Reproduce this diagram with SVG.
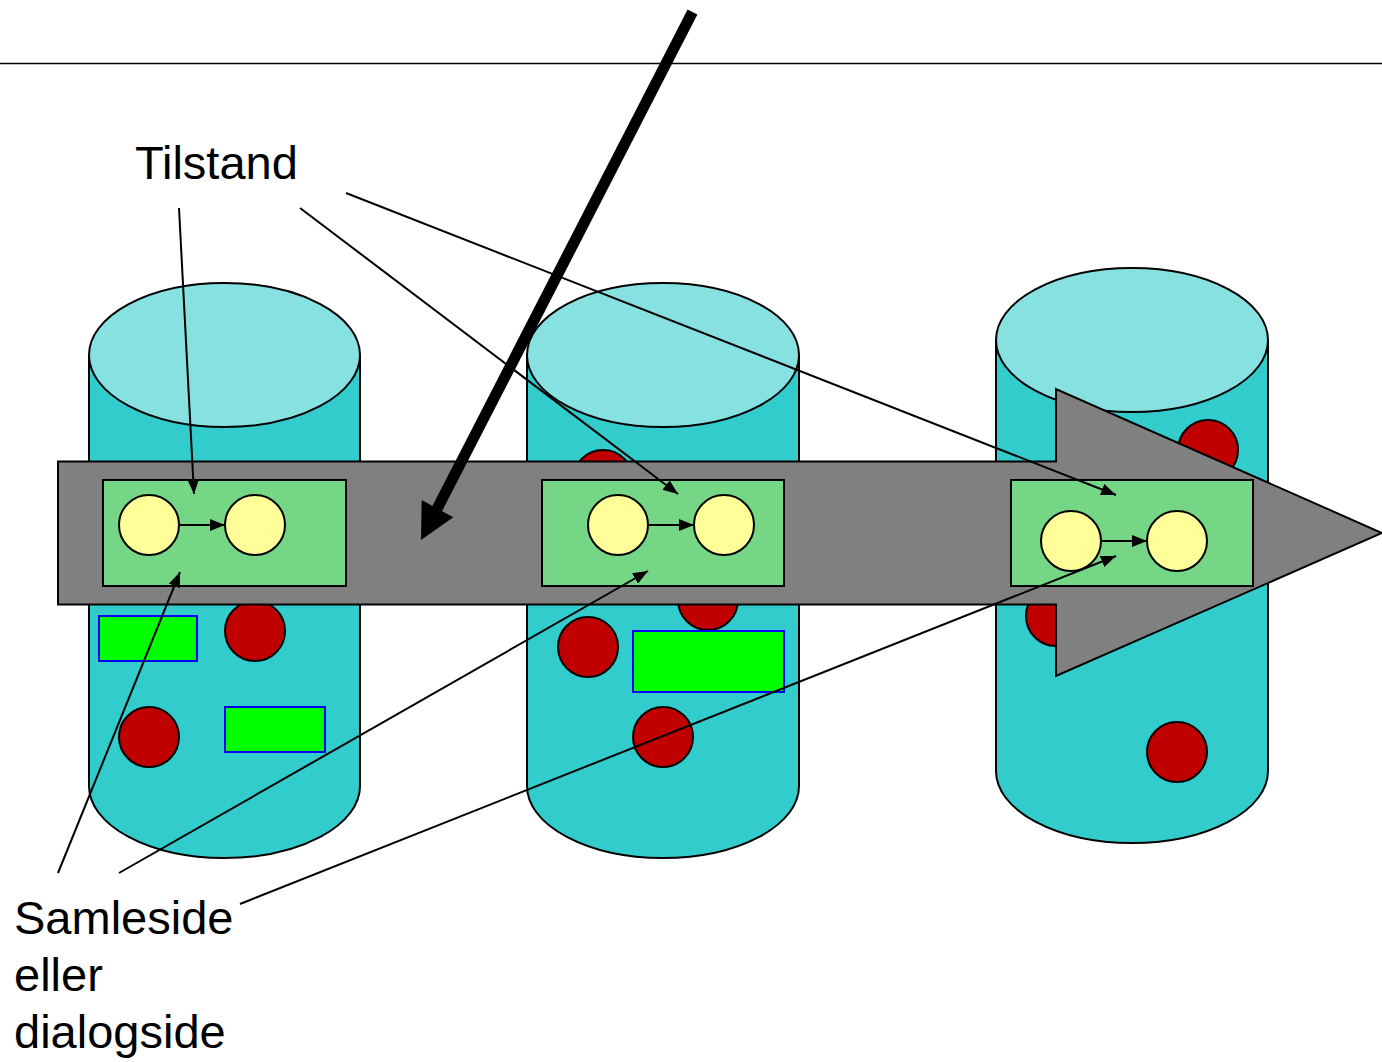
<svg xmlns="http://www.w3.org/2000/svg" width="1382" height="1062" viewBox="0 0 1382 1062">
<defs>
<style>
.body{fill:#33CCCC;stroke:#000;stroke-width:2}
.top{fill:#87E1E1;stroke:#000;stroke-width:2}
.red{fill:#C00000;stroke:#000;stroke-width:2}
.gr{fill:#00FF00;stroke:#0000FF;stroke-width:2}
.box{fill:#75D786;stroke:#000;stroke-width:2}
.st{fill:#FFFF99;stroke:#000;stroke-width:2}
.ptr{stroke:#000;stroke-width:2;fill:none;marker-end:url(#ah)}
.lbl{font-family:"Liberation Sans",Arial,sans-serif;font-size:47px;fill:#000}
</style>
<marker id="ah" viewBox="0 0 15 12" markerWidth="15" markerHeight="12" refX="15" refY="6" orient="auto" markerUnits="userSpaceOnUse">
<path d="M0,0 L15,6 L0,12 Z" fill="#000"/>
</marker>
</defs>
<rect width="1382" height="1062" fill="#fff"/>
<line x1="0" y1="63.5" x2="1382" y2="63.5" stroke="#000" stroke-width="1.3"/>

<g id="cyl1">
<path class="body" d="M89,355 V786 A135.5,72 0 0 0 360,786 V355 Z"/>
<ellipse class="top" cx="224.5" cy="355" rx="135.5" ry="72"/>
<circle class="red" cx="255" cy="631" r="30"/>
<circle class="red" cx="149" cy="737" r="30"/>
<rect class="gr" x="99" y="616" width="98" height="45"/>
<rect class="gr" x="225" y="707" width="100" height="45"/>
</g>
<g id="cyl2">
<path class="body" d="M527,355 V786 A136,72 0 0 0 799,786 V355 Z"/>
<ellipse class="top" cx="663" cy="355" rx="136" ry="72"/>
<circle class="red" cx="603" cy="480" r="30"/>
<circle class="red" cx="708" cy="600" r="30"/>
<circle class="red" cx="588" cy="647" r="30"/>
<circle class="red" cx="663" cy="737" r="30"/>
<rect class="gr" x="633" y="631" width="151" height="61"/>
</g>
<g id="cyl3">
<path class="body" d="M996,340 V771 A136,72 0 0 0 1268,771 V340 Z"/>
<ellipse class="top" cx="1132" cy="340" rx="136" ry="72"/>
<circle class="red" cx="1208" cy="450" r="30"/>
<circle class="red" cx="1056" cy="616" r="30"/>
<circle class="red" cx="1177" cy="752" r="30"/>
</g>

<g id="flow">
<path d="M58,461.5 H1056 V389 L1382,533 L1056,676 V604.5 H58 Z" fill="#808080" stroke="#000" stroke-width="2"/>
</g>

<g id="page1">
<rect class="box" x="103" y="480" width="243" height="106"/>
<circle class="st" cx="149" cy="525" r="30"/>
<circle class="st" cx="255" cy="525" r="30"/>
<line class="ptr" x1="179" y1="525" x2="225" y2="525"/>
</g>
<g id="page2">
<rect class="box" x="542" y="480" width="242" height="106"/>
<circle class="st" cx="618" cy="525" r="30"/>
<circle class="st" cx="724" cy="525" r="30"/>
<line class="ptr" x1="648" y1="525" x2="694" y2="525"/>
</g>
<g id="page3">
<rect class="box" x="1011" y="480" width="242" height="106"/>
<circle class="st" cx="1071" cy="541" r="30"/>
<circle class="st" cx="1177" cy="541" r="30"/>
<line class="ptr" x1="1101" y1="541" x2="1147" y2="541"/>
</g>

<g id="labels">
<text class="lbl" x="135" y="179">Tilstand</text>
<text class="lbl" x="14" y="934">Samleside</text>
<text class="lbl" x="14" y="991">eller</text>
<text class="lbl" x="14" y="1048">dialogside</text>
</g>

<g id="connectors">
<line class="ptr" x1="179" y1="208" x2="194" y2="494"/>
<line class="ptr" x1="300" y1="208" x2="678" y2="494"/>
<line class="ptr" x1="346" y1="193" x2="1116" y2="495"/>
<line class="ptr" x1="58" y1="873" x2="180" y2="572"/>
<line class="ptr" x1="119" y1="873" x2="648" y2="571"/>
<line class="ptr" x1="240" y1="904" x2="1116" y2="556"/>
<line x1="692.5" y1="12" x2="437" y2="509" stroke="#000" stroke-width="11"/>
<path d="M421,540 L421.7,500 L453.3,517.3 Z" fill="#000"/>
</g>
</svg>
